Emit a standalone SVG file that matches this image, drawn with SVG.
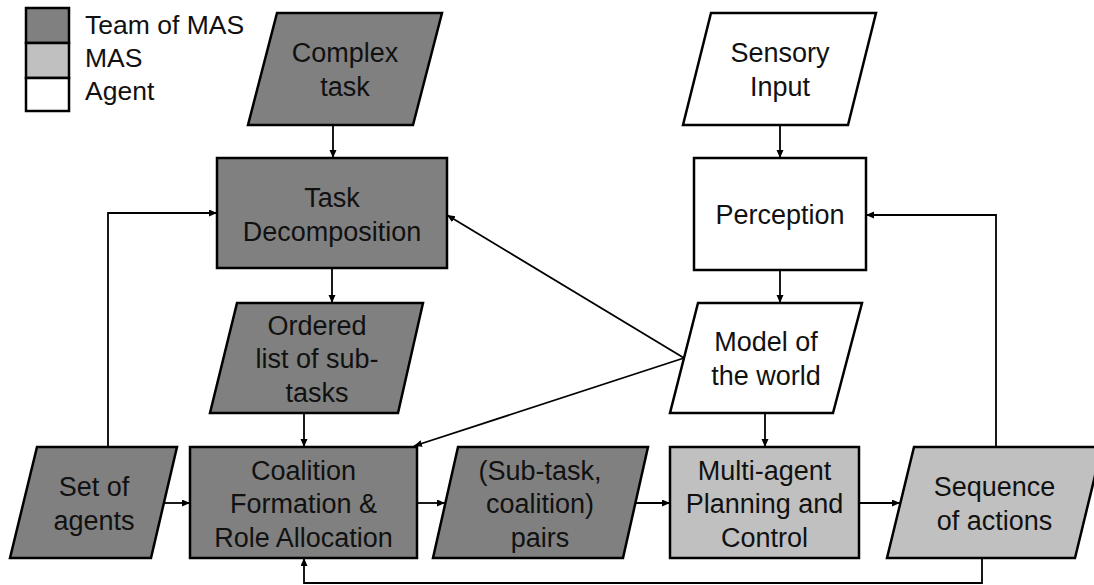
<svg xmlns="http://www.w3.org/2000/svg" width="1094" height="585" viewBox="0 0 1094 585">
  <defs>
    <marker id="arrow" markerUnits="userSpaceOnUse" markerWidth="10" markerHeight="8" refX="8" refY="3.5" orient="auto">
      <path d="M0,0 L8,3.5 L0,7 z" fill="#000"/>
    </marker>
    <style>
      .team { fill: #808080; stroke: #000; stroke-width: 2.5; stroke-linejoin: miter; }
      .mas { fill: #c0c0c0; stroke: #000; stroke-width: 2.5; }
      .agent { fill: #ffffff; stroke: #000; stroke-width: 2.5; }
      .lbl { font-family: "Liberation Sans", Arial, sans-serif; font-size: 27px; fill: #111; text-anchor: middle; }
      .leg { font-family: "Liberation Sans", Arial, sans-serif; font-size: 26.5px; fill: #111; }
      .conn path { fill: none; stroke: #000; stroke-width: 1.8; }
    </style>
  </defs>
  <rect width="1094" height="585" fill="#fff"/>

  <!-- legend -->
  <g id="legend">
    <rect class="team" x="26" y="8" width="43" height="35"/>
    <rect class="mas" x="26" y="43" width="43" height="35"/>
    <rect class="agent" x="26" y="78" width="43" height="33"/>
    <text class="leg" x="85" y="34">Team of MAS</text>
    <text class="leg" x="85" y="67">MAS</text>
    <text class="leg" x="85" y="100">Agent</text>
  </g>

  <!-- connectors -->
  <g id="connectors" class="conn">
    <path d="M333,125 V158" marker-end="url(#arrow)"/>
    <path d="M332,268 V303" marker-end="url(#arrow)"/>
    <path d="M304,413 V447" marker-end="url(#arrow)"/>
    <path d="M108,447 V213 H217" marker-end="url(#arrow)"/>
    <path d="M163,503 H190" marker-end="url(#arrow)"/>
    <path d="M417,503 H445" marker-end="url(#arrow)"/>
    <path d="M635,503 H670" marker-end="url(#arrow)"/>
    <path d="M859,503 H900" marker-end="url(#arrow)"/>
    <path d="M996,447 V215 H866" marker-end="url(#arrow)"/>
    <path d="M982,558 V583 H304 V558" marker-end="url(#arrow)"/>
    <path d="M780,125 V158" marker-end="url(#arrow)"/>
    <path d="M780,270 V303" marker-end="url(#arrow)"/>
    <path d="M684,358 L447,215" marker-end="url(#arrow)"/>
    <path d="M684,358 L414,446" marker-end="url(#arrow)"/>
    <path d="M765,413 V447" marker-end="url(#arrow)"/>
  </g>

  <!-- team-level nodes -->
  <g id="complex-task">
    <polygon class="team" points="277,13 442,13 413,125 248,125"/>
    <text class="lbl" x="345" y="62">Complex</text>
    <text class="lbl" x="345" y="96">task</text>
  </g>
  <g id="task-decomposition">
    <rect class="team" x="217" y="158" width="230" height="110"/>
    <text class="lbl" x="332" y="207">Task</text>
    <text class="lbl" x="332" y="241">Decomposition</text>
  </g>
  <g id="ordered-list">
    <polygon class="team" points="237,303 423,303 398,413 210,413"/>
    <text class="lbl" x="317" y="335">Ordered</text>
    <text class="lbl" x="317" y="368">list of sub-</text>
    <text class="lbl" x="317" y="402">tasks</text>
  </g>
  <g id="set-of-agents">
    <polygon class="team" points="37,447 177,447 151,558 10,558"/>
    <text class="lbl" x="94" y="496">Set of</text>
    <text class="lbl" x="94" y="530">agents</text>
  </g>
  <g id="coalition-formation">
    <rect class="team" x="190" y="447" width="227" height="111"/>
    <text class="lbl" x="303.5" y="480">Coalition</text>
    <text class="lbl" x="303.5" y="513">Formation &amp;</text>
    <text class="lbl" x="303.5" y="547">Role Allocation</text>
  </g>
  <g id="subtask-pairs">
    <polygon class="team" points="458,447 648,447 623,558 433,558"/>
    <text class="lbl" x="540" y="480">(Sub-task,</text>
    <text class="lbl" x="540" y="513">coalition)</text>
    <text class="lbl" x="540" y="547">pairs</text>
  </g>

  <!-- MAS-level nodes -->
  <g id="multi-agent-planning">
    <rect class="mas" x="670" y="447" width="189" height="111"/>
    <text class="lbl" x="764.5" y="480">Multi-agent</text>
    <text class="lbl" x="764.5" y="513">Planning and</text>
    <text class="lbl" x="764.5" y="547">Control</text>
  </g>
  <g id="sequence-of-actions">
    <polygon class="mas" points="914,447 1102,447 1075,558 887,558"/>
    <text class="lbl" x="994.5" y="496">Sequence</text>
    <text class="lbl" x="994.5" y="530">of actions</text>
  </g>

  <!-- agent-level nodes -->
  <g id="sensory-input">
    <polygon class="agent" points="711,13 876,13 848,125 683,125"/>
    <text class="lbl" x="780" y="62">Sensory</text>
    <text class="lbl" x="780" y="96">Input</text>
  </g>
  <g id="perception">
    <rect class="agent" x="694" y="158" width="172" height="112"/>
    <text class="lbl" x="780" y="224">Perception</text>
  </g>
  <g id="model-of-world">
    <polygon class="agent" points="698,303 862,303 833,413 670,413"/>
    <text class="lbl" x="766" y="351">Model of</text>
    <text class="lbl" x="766" y="385">the world</text>
  </g>
</svg>
